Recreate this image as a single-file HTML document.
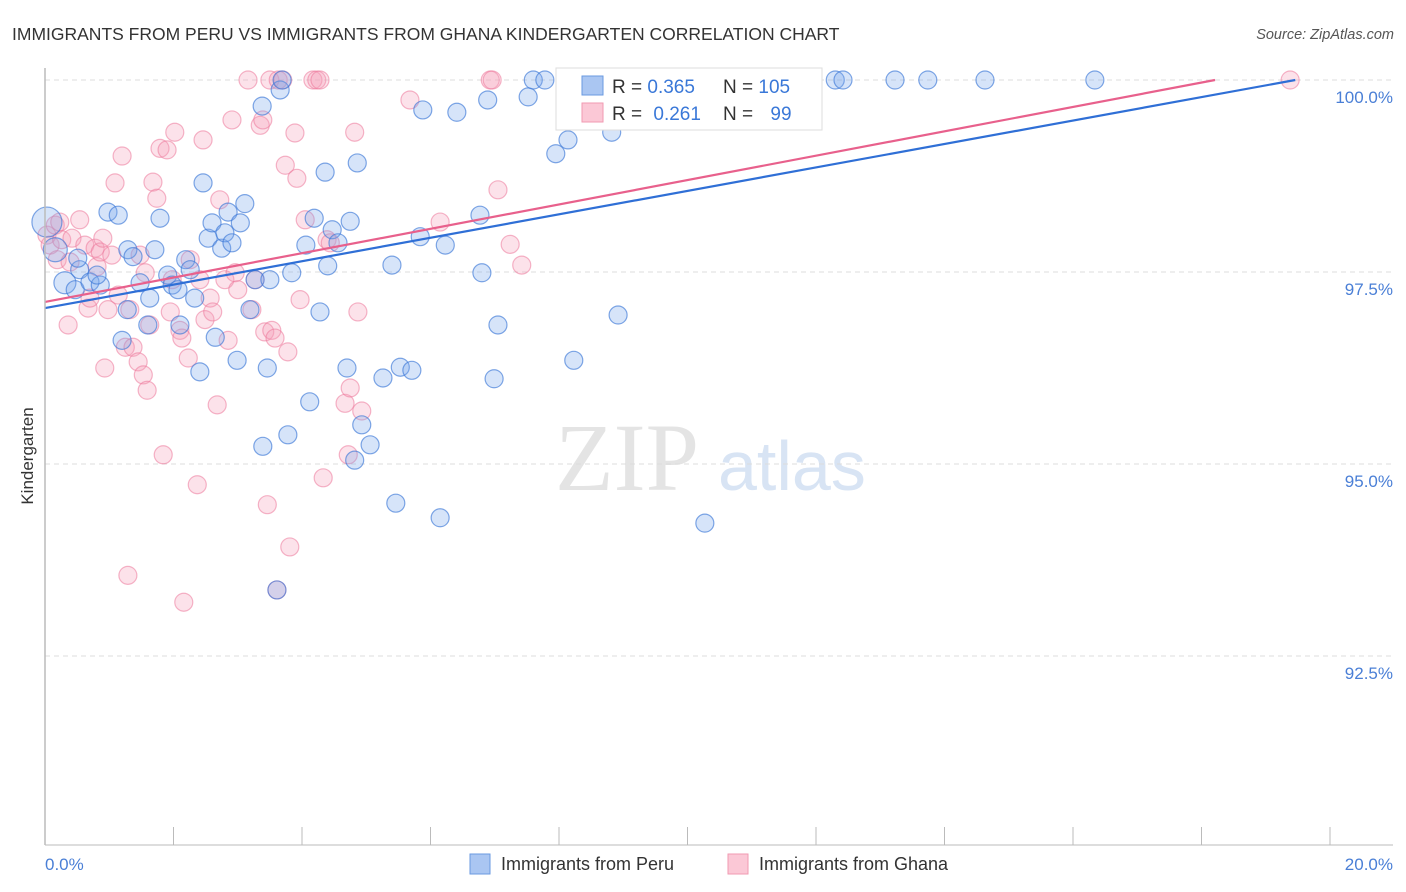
<!DOCTYPE html>
<html><head><meta charset="utf-8"><style>
body{margin:0;background:#fff;font-family:"Liberation Sans",sans-serif}
svg{display:block}
</style></head><body>
<svg id="c" width="1406" height="892">
<text x="12" y="40" font-size="17.5" fill="#333">IMMIGRANTS FROM PERU VS IMMIGRANTS FROM GHANA KINDERGARTEN CORRELATION CHART</text>
<text x="1394" y="39" font-size="14.5" fill="#555" font-style="italic" text-anchor="end">Source: ZipAtlas.com</text>
<text x="33" y="456" font-size="17" fill="#333" text-anchor="middle" transform="rotate(-90 33 456)">Kindergarten</text>
<g><text x="555" y="490" font-size="96" fill="#e4e4e4" font-family="Liberation Serif">ZIP</text><text x="718" y="490" font-size="70" fill="#d8e4f4">atlas</text></g>
<g id="grid"></g><g id="pts"></g><g id="trend"></g>
<line x1="45" y1="68" x2="45" y2="845" stroke="#bbb" stroke-width="1.5"/>
<line x1="45" y1="845" x2="1393" y2="845" stroke="#bbb" stroke-width="1"/>
<g id="xt"></g>
<text x="45" y="870" font-size="17" fill="#4a7fd6">0.0%</text>
<text x="1393" y="870" font-size="17" fill="#4a7fd6" text-anchor="end">20.0%</text>
<g>
<rect x="556" y="68" width="266" height="62" fill="#fff" stroke="#ddd"/>
<rect x="582" y="76" width="21" height="19" fill="#aac6f2" stroke="#6a9ae0"/>
<rect x="582" y="103" width="21" height="19" fill="#fbc8d6" stroke="#f09ab2"/>
<text x="612" y="93" font-size="19" fill="#333">R = <tspan fill="#3a78d8">0.365</tspan></text>
<text x="723" y="93" font-size="19" fill="#333">N = <tspan fill="#3a78d8">105</tspan></text>
<text x="612" y="120" font-size="19" fill="#333">R = <tspan fill="#3a78d8" dx="6">0.261</tspan></text>
<text x="723" y="120" font-size="19" fill="#333">N = <tspan fill="#3a78d8" dx="12">99</tspan></text>
</g>
<g><rect x="470" y="854" width="20" height="20" fill="#aac6f2" stroke="#6a9ae0"/><text x="501" y="870" font-size="18" fill="#333">Immigrants from Peru</text></g>
<g><rect x="728" y="854" width="20" height="20" fill="#fbc8d6" stroke="#f09ab2"/><text x="759" y="870" font-size="18" fill="#333">Immigrants from Ghana</text></g>
</svg>
<script>
const yTicks=[100,97.5,95,92.5];
const yTickLabels=["100.0%","97.5%","95.0%","92.5%"];
const peruX=[0.03,0.16,0.31,0.54,0.51,0.47,0.70,0.86,0.81,0.98,1.14,1.20,1.29,1.37,1.28,1.48,1.60,1.63,1.71,1.79,1.91,1.98,2.07,2.10,2.19,2.26,2.33,2.41,2.46,2.54,2.60,2.65,2.75,2.80,2.85,2.91,3.04,2.99,3.11,3.19,3.27,3.38,3.39,3.46,3.50,3.66,3.69,3.78,3.84,4.06,4.12,4.19,4.28,4.36,4.40,4.47,4.56,4.70,4.75,4.82,4.86,4.93,5.06,5.26,5.40,5.46,5.53,5.71,5.84,5.88,6.15,6.23,6.41,6.77,6.80,6.89,6.99,7.05,7.52,7.60,7.78,7.95,8.14,8.23,8.82,8.92,9.54,10.27,11.33,12.30,12.42,13.23,13.74,14.63,16.34,3.61];
const peruY=[98.15,97.79,97.36,97.53,97.68,97.27,97.37,97.33,97.46,98.28,98.24,96.61,97.79,97.70,97.01,97.36,96.81,97.16,97.79,98.20,97.46,97.33,97.27,96.81,97.66,97.53,97.16,96.20,98.66,97.94,98.14,96.65,97.81,98.01,98.28,97.88,98.14,96.35,98.39,97.01,97.40,99.66,95.23,96.25,97.40,99.87,100,95.38,97.49,97.85,95.81,98.20,96.98,98.80,97.58,98.05,97.88,96.25,98.16,95.05,98.92,95.51,95.25,96.12,97.59,94.49,96.26,96.22,97.96,99.61,94.30,97.85,99.58,98.24,97.49,99.74,96.11,96.81,99.78,100,100,99.04,99.22,96.35,99.32,96.94,100,94.23,100,100,100,100,100,100,100,93.36];
const ghanaX=[0.03,0.08,0.16,0.23,0.19,0.26,0.36,0.39,0.42,0.54,0.62,0.67,0.70,0.78,0.81,0.86,0.90,0.93,0.98,1.04,1.09,1.14,1.20,1.25,1.29,1.32,1.37,1.45,1.48,1.53,1.56,1.59,1.63,1.68,1.74,1.79,1.84,1.90,1.95,1.98,2.02,2.10,2.13,2.16,2.23,2.26,2.37,2.41,2.46,2.49,2.57,2.61,2.68,2.72,2.80,2.85,2.91,2.96,3.00,3.16,3.22,3.27,3.35,3.39,3.42,3.46,3.50,3.53,3.58,3.63,3.70,3.74,3.78,3.81,3.89,3.92,3.97,4.05,4.17,4.23,4.28,4.33,4.39,4.44,4.67,4.72,4.75,4.82,4.87,4.93,5.68,6.15,6.93,6.96,7.05,7.24,7.42,8.25,9.18,11.28,19.38,3.61];
const ghanaY=[97.98,97.85,98.11,98.15,97.66,97.92,96.81,97.63,97.94,98.18,97.85,97.03,97.16,97.81,97.57,97.76,97.94,96.25,97.01,97.72,98.66,97.20,99.01,96.52,93.55,97.01,96.52,96.33,97.72,96.16,97.49,95.96,96.81,98.67,98.46,99.11,95.12,99.09,96.98,97.40,99.32,96.74,96.64,93.20,96.38,97.66,94.73,97.40,99.22,96.88,97.16,96.98,95.77,98.44,97.40,96.61,99.48,97.49,97.27,100,97.01,97.40,99.41,99.48,96.72,94.47,100,96.74,96.64,100,100,98.89,96.46,93.92,99.31,98.72,97.14,98.18,100,100,100,94.82,97.92,97.88,95.79,95.12,95.99,99.32,96.98,95.69,99.74,98.15,100,100,98.57,97.86,97.59,100,100,100,100,93.36];
const peruTrend=[[0,97.03],[19.46,100]];
const ghanaTrend=[[0,97.11],[18.21,100]];
const X=v=>45+v/20*1285, Y=v=>80+(100-v)*76.8;
const NS="http://www.w3.org/2000/svg";
function mk(t,a,p){const e=document.createElementNS(NS,t);for(const k in a)e.setAttribute(k,a[k]);p.appendChild(e);return e;}
const grid=document.getElementById('grid');
yTicks.forEach((t,i)=>{
 const l=mk('line',{x1:45,x2:1393,y1:Y(t),y2:Y(t),stroke:'#ddd','stroke-dasharray':'5,4'},grid);
 
 
 const tx=mk('text',{x:1393,y:Y(t)+23,'font-size':17,fill:'#4a7fd6','text-anchor':'end'},grid);
 tx.textContent=yTickLabels[i];
 
 
});
const xt=document.getElementById('xt');
for(let k=0;k<=10;k++){const v=k*2;
 const l=mk('line',{x1:X(v),x2:X(v),y1:827,y2:845,stroke:'#bbb'},xt);
 
 
}
const pts=document.getElementById('pts');
function draw(xs,ys,fill,stroke,name){xs.forEach((x,i)=>{
 const r=(i===0&&name==='peru-point')?15:(i===1&&name==='peru-point')?12:(i===2&&name==='peru-point')?11:9;
 const c=mk('circle',{cx:X(x),cy:Y(ys[i]),r:r,fill:fill,stroke:stroke,'stroke-width':1.2},pts);
 
 
});}
draw(ghanaX,ghanaY,'rgba(246,160,185,0.3)','rgba(236,120,155,0.55)','ghana-point');
draw(peruX,peruY,'rgba(120,165,235,0.3)','rgba(60,120,215,0.65)','peru-point');
const tr=document.getElementById('trend');
[[peruTrend,'#2f6fd6','peru-trend-line'],[ghanaTrend,'#e8608c','ghana-trend-line']].forEach(([d,c,n])=>{
 const l=mk('line',{x1:X(d[0][0]),y1:Y(d[0][1]),x2:X(d[1][0]),y2:Y(d[1][1]),stroke:c,'stroke-width':2.2},tr);
 
 
});
</script>
</body></html>
